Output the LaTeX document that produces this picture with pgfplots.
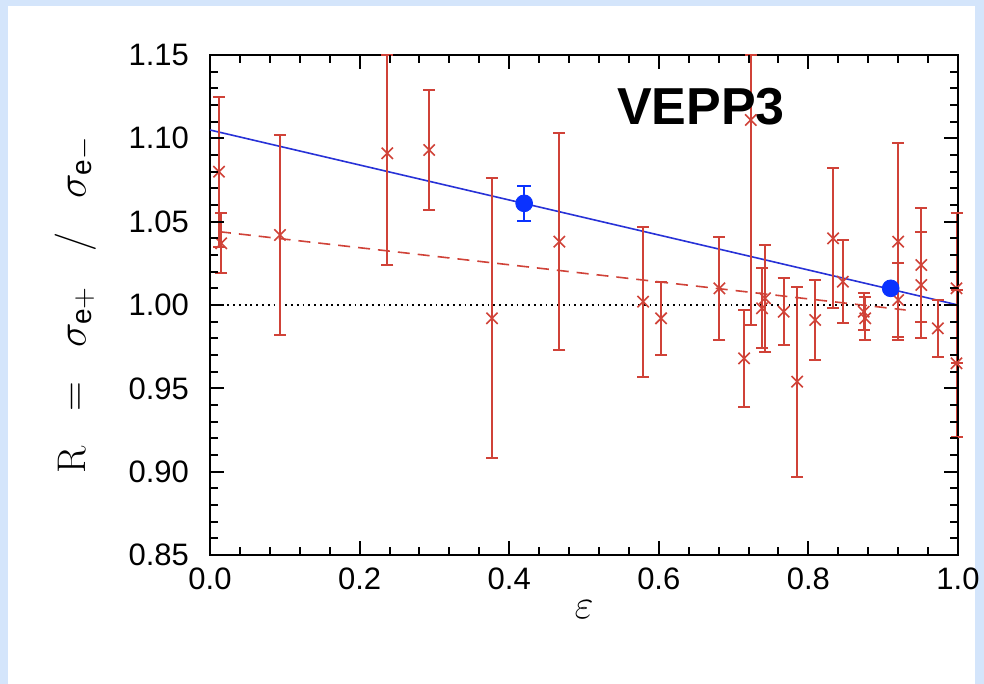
\documentclass[border=0pt]{standalone}
\usepackage{fontspec}
\setsansfont{Liberation Sans}
\usepackage{pgfplots}
\pgfplotsset{compat=1.18}
\definecolor{bgblue}{RGB}{212,229,251}
\definecolor{myred}{RGB}{208,66,56}
\definecolor{myblue}{RGB}{10,50,255}
\definecolor{lineblue}{RGB}{40,50,215}

\pgfplotstableread{
x y ep em
0.012 1.080 0.045 0.045
0.015 1.037 0.018 0.018
0.0935 1.042 0.060 0.060
0.237 1.091 0.059 0.067
0.293 1.093 0.036 0.036
0.377 0.992 0.084 0.084
0.467 1.038 0.065 0.065
0.579 1.002 0.045 0.045
0.603 0.992 0.022 0.022
0.681 1.010 0.031 0.031
0.714 0.968 0.029 0.029
0.723 1.111 0.039 0.123
0.738 0.998 0.024 0.024
0.742 1.004 0.032 0.032
0.767 0.996 0.020 0.020
0.785 0.954 0.057 0.057
0.809 0.991 0.024 0.024
0.833 1.040 0.042 0.042
0.846 1.014 0.025 0.025
0.874 0.996 0.011 0.011
0.876 0.992 0.013 0.013
0.920 1.038 0.059 0.059
0.920 1.003 0.022 0.022
0.951 1.024 0.034 0.034
0.951 1.012 0.032 0.032
0.973 0.986 0.017 0.017
0.998 1.010 0.045 0.045
0.998 0.965 0.044 0.044
}\reddata

\pgfplotstableread{
x y e
0.420 1.061 0.0105
}\bluedata

\begin{document}
\begin{tikzpicture}
\fill[bgblue] (0bp,0bp) rectangle (492bp,342bp);
\fill[white] (4bp,0bp) rectangle (487.5bp,339bp);
\begin{axis}[
  at={(105bp,64.5bp)}, anchor=south west,
  width=374bp, height=250bp, scale only axis,
  clip=false,
  xmin=0, xmax=1, ymin=0.85, ymax=1.15,
  xtick={0,0.2,...,1.0}, minor x tick num=4,
  ytick={0.85,0.90,...,1.151}, minor y tick num=4,
  tick align=inside,
  major tick length=7bp, minor tick length=3.8bp,
  every tick/.style={black, line width=1bp},
  axis line style={line width=1bp},
  tick pos=both,
  ticklabel style={font=\sffamily\fontsize{15.5bp}{17bp}\selectfont},
  /pgf/number format/assume math mode=true,
  xticklabel style={/pgf/number format/fixed, /pgf/number format/fixed zerofill, /pgf/number format/precision=1, yshift=-3bp},
  yticklabel style={/pgf/number format/fixed, /pgf/number format/fixed zerofill, /pgf/number format/precision=2, xshift=-7bp},
  xlabel={$\varepsilon$},
  xlabel style={font=\fontsize{21bp}{23bp}\selectfont, at={(axis description cs:0.5,-0.11)}, anchor=center},
  ylabel={$\mathrm{R}\;\;=\;\;\sigma_{\mathsf{e+}}\;\;\;/\;\;\;\sigma_{\mathsf{e-}}$},
  ylabel style={font=\fontsize{20bp}{22bp}\selectfont, at={(axis description cs:-0.18,0.5)}, anchor=center},
]
\addplot[black, dotted, line width=0.9bp, forget plot] coordinates {(0,1.0) (1,1.0)};
\addplot[myred, dashed, dash pattern=on 6bp off 4bp, line width=0.8bp, forget plot] coordinates {(0.012,1.044) (0.93,0.997)};
\addplot[lineblue, line width=0.8bp, forget plot] coordinates {(0,1.105) (1,1.000)};
\addplot[myred, only marks, mark=x, mark size=4bp, line width=0.8bp,
  error bars/.cd, y dir=both, y explicit,
  error bar style={line width=0.9bp, myred},
  error mark options={rotate=90, mark size=3bp, line width=0.9bp, myred}]
  table[x=x, y=y, y error plus=ep, y error minus=em] {\reddata};
\addplot[myblue, only marks, mark=*, mark size=4.2bp,
  error bars/.cd, y dir=both, y explicit,
  error bar style={line width=1bp, myblue},
  error mark options={rotate=90, mark size=3.5bp, line width=1bp, myblue}]
  table[x=x, y=y, y error=e] {\bluedata};
\addplot[myblue, only marks, mark=*, mark size=4.2bp] coordinates {(0.910,1.010)};
\node[anchor=base west, font=\sffamily\bfseries\fontsize{26bp}{29bp}\selectfont] at (axis cs:0.535,1.108) {VEPP3};
\end{axis}
% tick marks along the frame (x every 0.04, y every 0.01)
\foreach \i in {0,...,25} {
  \pgfmathsetmacro\len{ifthenelse(mod(\i,5)==0,7,3.8)}
  \pgfmathsetmacro\xx{105+374*\i/25}
  \draw[black, line width=1bp] (\xx bp,64.5bp) -- ++(0bp,\len bp);
  \draw[black, line width=1bp] (\xx bp,314.5bp) -- ++(0bp,-\len bp);
}
\foreach \i in {0,...,30} {
  \pgfmathsetmacro\len{ifthenelse(mod(\i,5)==0,7,3.8)}
  \pgfmathsetmacro\yy{64.5+250*\i/30}
  \draw[black, line width=1bp] (105bp,\yy bp) -- ++(\len bp,0bp);
  \draw[black, line width=1bp] (479bp,\yy bp) -- ++(-\len bp,0bp);
}
\pgfresetboundingbox
\path[use as bounding box] (0bp,0bp) rectangle (492bp,342bp);
\end{tikzpicture}
\end{document}
